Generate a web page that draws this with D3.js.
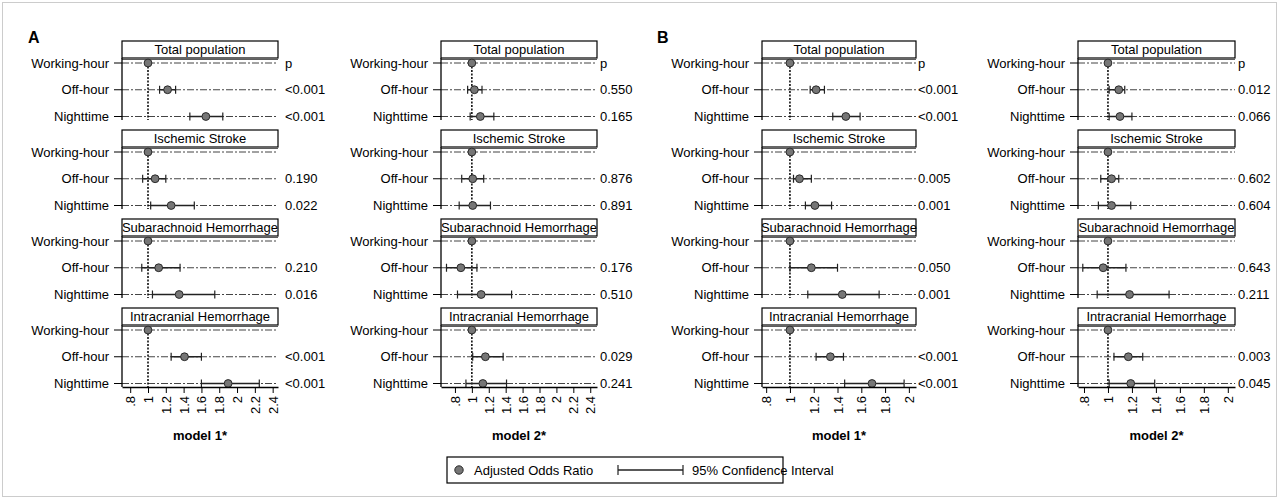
<!DOCTYPE html>
<html>
<head>
<meta charset="utf-8">
<script src="https://cdn.jsdelivr.net/npm/d3@7"></script>
<style>
  body { margin: 0; background: #fff; }
  svg { font-family: Arial, "Liberation Sans", sans-serif; }
</style>
</head>
<body>
<div id="chartArea"></div>
<script>
// data
var groups = ["Total population", "Ischemic Stroke", "Subarachnoid Hemorrhage", "Intracranial Hemorrhage"];
var periods = ["Working-hour", "Off-hour", "Nighttime"];
var pHeader = "p";

// [Off-hour, Nighttime] per group
var aM1Or = [[1.22, 1.65], [1.08, 1.26], [1.12, 1.35], [1.41, 1.90]];
var aM1Lo = [[1.13, 1.47], [0.94, 1.03], [0.93, 1.05], [1.26, 1.60]];
var aM1Hi = [[1.31, 1.84], [1.20, 1.52], [1.36, 1.75], [1.60, 2.25]];
var aM1P = [["<0.001", "<0.001"], ["0.190", "0.022"], ["0.210", "0.016"], ["<0.001", "<0.001"]];

var aM2Or = [[1.03, 1.10], [1.01, 1.01], [0.87, 1.11], [1.16, 1.13]];
var aM2Lo = [[0.95, 0.98], [0.88, 0.85], [0.70, 0.83], [1.01, 0.93]];
var aM2Hi = [[1.12, 1.26], [1.14, 1.22], [1.06, 1.47], [1.37, 1.41]];
var aM2P = [["0.550", "0.165"], ["0.876", "0.891"], ["0.176", "0.510"], ["0.029", "0.241"]];

var bM1Or = [[1.22, 1.47], [1.08, 1.21], [1.18, 1.44], [1.34, 1.69]];
var bM1Lo = [[1.17, 1.36], [1.03, 1.13], [1.00, 1.15], [1.22, 1.46]];
var bM1Hi = [[1.29, 1.59], [1.18, 1.35], [1.40, 1.75], [1.45, 1.96]];
var bM1P = [["<0.001", "<0.001"], ["0.005", "0.001"], ["0.050", "0.001"], ["<0.001", "<0.001"]];

var bM2Or = [[1.09, 1.10], [1.03, 1.03], [0.96, 1.18], [1.17, 1.19]];
var bM2Lo = [[1.01, 1.01], [0.94, 0.92], [0.79, 0.91], [1.05, 1.01]];
var bM2Hi = [[1.14, 1.20], [1.09, 1.19], [1.15, 1.51], [1.29, 1.39]];
var bM2P = [["0.012", "0.066"], ["0.602", "0.604"], ["0.643", "0.211"], ["0.003", "0.045"]];

var ticksA = [0.8, 1, 1.2, 1.4, 1.6, 1.8, 2, 2.2, 2.4];
var ticksB = [0.8, 1, 1.2, 1.4, 1.6, 1.8, 2];

var svg = d3.select("#chartArea").append("svg")
  .attr("width", 1280)
  .attr("height", 499);

// outer dotted frame
svg.append("rect")
  .attr("x", 2.5).attr("y", 2.5)
  .attr("width", 1274).attr("height", 494)
  .attr("fill", "none")
  .attr("stroke", "#999")
  .attr("stroke-dasharray", "1,1");

svg.append("text").attr("x", 28).attr("y", 43)
  .style("font-weight", "bold").style("font-size", "16px").text("A");
svg.append("text").attr("x", 657).attr("y", 43)
  .style("font-weight", "bold").style("font-size", "16px").text("B");

function fmtTick(d) {
  var s = String(d);
  return d < 1 ? s.replace("0.", ".") : s;
}

function drawPanel(cfg) {
  var x = d3.scaleLinear().domain(cfg.domain).range([cfg.left, cfg.right]);
  var headH = 17, subH = 79, pitch = 89, top0 = 41;
  var row = d3.scaleLinear().domain([0, 2]).range([22, 75.5]);

  groups.forEach(function (g, gi) {
    var top = top0 + gi * pitch;
    var sg = svg.append("g").attr("transform", "translate(0," + top + ")");

    // strip header
    sg.append("rect")
      .attr("x", cfg.left).attr("y", 0)
      .attr("width", cfg.right - cfg.left).attr("height", headH)
      .attr("fill", "#fff").attr("stroke", "#000").attr("stroke-width", 1.2);
    sg.append("line")
      .attr("x1", cfg.left).attr("x2", cfg.right)
      .attr("y1", headH + 1.5).attr("y2", headH + 1.5)
      .attr("stroke", "#333").attr("stroke-width", 0.8);
    sg.append("text")
      .attr("x", (cfg.left + cfg.right) / 2).attr("y", headH / 2)
      .attr("dy", ".36em")
      .style("text-anchor", "middle").style("font-size", "13px")
      .text(g);

    // row grid lines, ticks and labels
    periods.forEach(function (p, pi) {
      var yy = row(pi);
      sg.append("line")
        .attr("x1", cfg.left).attr("x2", cfg.right)
        .attr("y1", yy).attr("y2", yy)
        .attr("stroke", "#444").attr("stroke-width", 1)
        .attr("stroke-dasharray", "7,2,2,2");
      sg.append("line")
        .attr("x1", cfg.left - 8).attr("x2", cfg.left)
        .attr("y1", yy).attr("y2", yy)
        .attr("stroke", "#000");
      sg.append("text")
        .attr("x", cfg.left - 13).attr("y", yy).attr("dy", ".35em")
        .style("text-anchor", "end").style("font-size", "13px")
        .text(p);
      var ptxt = pi == 0 ? (gi == 0 ? pHeader : "") : cfg.p[gi][pi - 1];
      sg.append("text")
        .attr("x", cfg.pX).attr("y", yy).attr("dy", ".35em")
        .style("font-size", "13px")
        .text(ptxt);
    });

    // left axis
    sg.append("line")
      .attr("x1", cfg.left).attr("x2", cfg.left)
      .attr("y1", headH).attr("y2", subH)
      .attr("stroke", "#000").attr("stroke-width", 1.3);

    // reference line at OR = 1
    sg.append("line")
      .attr("x1", x(1)).attr("x2", x(1))
      .attr("y1", row(0)).attr("y2", subH)
      .attr("stroke", "#000").attr("stroke-width", 1.5)
      .attr("stroke-dasharray", "2,1.5");

    var pts = [{ or: 1, lo: null, hi: null, i: 0 }];
    [0, 1].forEach(function (k) {
      pts.push({ or: cfg.or[gi][k], lo: cfg.lo[gi][k], hi: cfg.hi[gi][k], i: k + 1 });
    });

    var ci = pts.filter(function (d) { return d.lo != null; });
    sg.selectAll(".ci").data(ci).enter().append("line")
      .attr("x1", function (d) { return x(d.lo); })
      .attr("x2", function (d) { return x(d.hi); })
      .attr("y1", function (d) { return row(d.i); })
      .attr("y2", function (d) { return row(d.i); })
      .attr("stroke", "#222").attr("stroke-width", 1.5);
    ["lo", "hi"].forEach(function (key) {
      sg.selectAll(".cap" + key).data(ci).enter().append("line")
        .attr("x1", function (d) { return x(d[key]); })
        .attr("x2", function (d) { return x(d[key]); })
        .attr("y1", function (d) { return row(d.i) - 4; })
        .attr("y2", function (d) { return row(d.i) + 4; })
        .attr("stroke", "#222").attr("stroke-width", 1.2);
    });

    sg.selectAll(".pt").data(pts).enter().append("circle")
      .attr("cx", function (d) { return x(d.or); })
      .attr("cy", function (d) { return row(d.i); })
      .attr("r", 3.9)
      .attr("fill", "#767676").attr("stroke", "#2a2a2a").attr("stroke-width", 1);

    // x axis under the last group only
    if (gi == groups.length - 1) {
      var ax = sg.append("g")
        .attr("transform", "translate(0," + subH + ")")
        .call(d3.axisBottom(x).tickValues(cfg.ticks).tickFormat(fmtTick)
          .tickSizeInner(6).tickSizeOuter(0));
      ax.select(".domain").attr("stroke-width", 1.3);
      ax.selectAll("text")
        .style("font-size", "13px").style("font-family", "Arial, 'Liberation Sans', sans-serif")
        .attr("fill", "#000")
        .attr("transform", "rotate(-90)")
        .attr("x", -9).attr("y", 0).attr("dy", ".35em")
        .style("text-anchor", "end");
      sg.append("text")
        .attr("x", (cfg.left + cfg.right) / 2).attr("y", subH + 53)
        .style("text-anchor", "middle").style("font-size", "13px").style("font-weight", "bold")
        .text(cfg.title);
    }
  });
}

drawPanel({ left: 122, right: 278, domain: [0.708, 2.46], ticks: ticksA, pX: 285, title: "model 1*",
  or: aM1Or, lo: aM1Lo, hi: aM1Hi, p: aM1P });
drawPanel({ left: 441, right: 597, domain: [0.635, 2.48], ticks: ticksA, pX: 600, title: "model 2*",
  or: aM2Or, lo: aM2Lo, hi: aM2Hi, p: aM2P });
drawPanel({ left: 762, right: 916, domain: [0.765, 2.06], ticks: ticksB, pX: 918, title: "model 1*",
  or: bM1Or, lo: bM1Lo, hi: bM1Hi, p: bM1P });
drawPanel({ left: 1078, right: 1235, domain: [0.75, 2.06], ticks: ticksB, pX: 1238, title: "model 2*",
  or: bM2Or, lo: bM2Lo, hi: bM2Hi, p: bM2P });

// legend
var lg = svg.append("g");
lg.append("rect")
  .attr("x", 447).attr("y", 457).attr("width", 336).attr("height", 26)
  .attr("fill", "#fff").attr("stroke", "#000").attr("stroke-width", 1.2);
lg.append("circle")
  .attr("cx", 459).attr("cy", 470).attr("r", 4.2)
  .attr("fill", "#767676").attr("stroke", "#2a2a2a");
lg.append("text").attr("x", 474).attr("y", 470).attr("dy", ".35em")
  .style("font-size", "13px").text("Adjusted Odds Ratio");
lg.append("line").attr("x1", 618).attr("x2", 683).attr("y1", 470).attr("y2", 470)
  .attr("stroke", "#222").attr("stroke-width", 1.4);
[618, 683].forEach(function (cx) {
  lg.append("line").attr("x1", cx).attr("x2", cx).attr("y1", 465).attr("y2", 475)
    .attr("stroke", "#222").attr("stroke-width", 1.2);
});
lg.append("text").attr("x", 692).attr("y", 470).attr("dy", ".35em")
  .style("font-size", "13px").text("95% Confidence Interval");
</script>
</body>
</html>
